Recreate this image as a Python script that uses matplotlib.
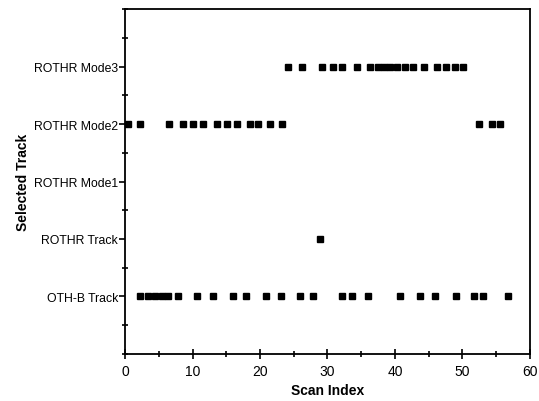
import matplotlib
matplotlib.use("Agg")
import matplotlib.pyplot as plt
from matplotlib.ticker import MultipleLocator

plt.rcParams['font.family'] = ['Liberation Sans', 'DejaVu Sans']

track_labels = ["OTH-B Track", "ROTHR Track", "ROTHR Mode1", "ROTHR Mode2", "ROTHR Mode3"]

othb_scans = [2.2, 3.4, 4.4, 5.5, 6.4, 7.9, 10.7, 13.0, 16.0, 18.0, 20.9, 23.1, 25.9,
              27.9, 32.1, 33.6, 36.0, 40.7, 43.7, 45.9, 49.0, 51.7, 53.0, 56.7]
rothr_track_scans = [28.9]
mode1_scans = []
mode2_scans = [0.4, 2.2, 6.5, 8.6, 10.0, 11.6, 13.6, 15.1, 16.6, 18.5, 19.7, 21.5, 23.3,
               52.4, 54.4, 55.6]
mode3_scans = [24.1, 26.2, 29.2, 30.8, 32.1, 34.4, 36.3, 37.5, 38.4, 39.3, 40.3, 41.5,
               42.7, 44.3, 46.2, 47.6, 48.9, 50.1]

series = [othb_scans, rothr_track_scans, mode1_scans, mode2_scans, mode3_scans]

fig = plt.figure(figsize=(5.39, 4.02), dpi=100)
ax = fig.add_axes([0.232, 0.117, 0.751, 0.858])

for level, scans in enumerate(series, start=1):
    if scans:
        ax.plot(scans, [level] * len(scans), linestyle='none', marker='s',
                markersize=5, color='black')

ax.set_xlim(0, 60)
ax.set_ylim(0, 6)
ax.set_xticks([0, 10, 20, 30, 40, 50, 60])
ax.xaxis.set_minor_locator(MultipleLocator(5))
ax.set_yticks([1, 2, 3, 4, 5])
ax.set_yticklabels(track_labels, fontsize=8.8)
ax.yaxis.set_minor_locator(MultipleLocator(0.5))
ax.tick_params(axis='x', which='major', direction='inout', length=7, width=1.2, labelsize=10)
ax.tick_params(axis='x', which='minor', direction='inout', length=5, width=1.2)
ax.tick_params(axis='y', which='major', direction='out', length=4, width=1.2, pad=1)
ax.tick_params(axis='y', which='minor', direction='inout', length=5, width=1.2)
for s in ax.spines.values():
    s.set_linewidth(1.3)

ax.set_xlabel("Scan Index", fontsize=10, fontweight='bold', labelpad=4)
ax.set_ylabel("Selected Track", fontsize=10, fontweight='bold', labelpad=3)

fig.savefig("out.png", dpi=100)
